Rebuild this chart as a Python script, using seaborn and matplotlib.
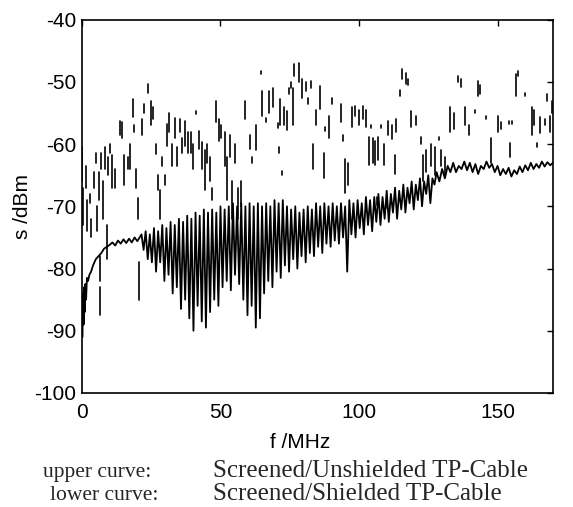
import numpy as np
import pandas as pd
import matplotlib
matplotlib.use("Agg")
import matplotlib.pyplot as plt
import seaborn as sns

# ---------------- data ----------------
# Upper curve (Screened/Unshielded TP-Cable): fragmented trace, stored as
# short strokes: frequency, top level, bottom level
upper_f = [0.2, 0.5, 1.6, 2.0, 2.8, 3.2, 4.3, 5.0, 5.5, 6.0, 6.5, 6.6, 7.0, 7.6, 8.4,
           9.0, 9.5, 10.3, 11.0, 12.0, 13.7, 14.5, 15.3, 16.5, 17.4, 18.3, 18.9, 19.6,
           20.3, 20.5, 21.5, 22.5, 23.7, 24.8, 25.6, 26.6, 27.4, 28.0, 29.0, 29.8,
           30.6, 31.6, 32.6, 33.5, 34.4, 35.3, 36.0, 37.2, 38.2, 39.3, 40.0, 41.2,
           42.3, 43.5, 44.3, 45.2, 46.2, 47.0, 48.3, 49.3, 50.2, 51.5, 52.2, 53.3,
           54.3, 55.2, 56.3, 57.3, 59.0, 60.5, 61.5, 63.0, 64.6, 65.0, 66.5, 67.5,
           69.0, 70.8, 71.2, 71.5, 72.3, 73.0, 74.0, 74.6, 75.3, 76.0, 76.4, 78.4,
           79.5, 80.8, 81.5, 82.5, 83.5, 84.3, 85.8, 87.5, 87.8, 89.0, 90.4, 93.5,
           94.2, 95.0, 96.0, 97.5, 98.5, 100.0, 101.5, 102.5, 103.5, 104.3, 105.0,
           105.8, 106.5, 107.0, 108.0, 109.0, 110.0, 110.6, 111.8, 113.0, 113.5,
           114.8, 115.6, 116.8, 117.8, 118.8, 120.5, 122.5, 123.2, 124.2, 126.0,
           127.3, 129.0, 129.5, 131.0, 132.8, 134.2, 135.8, 136.8, 138.3, 139.8,
           141.8, 142.8, 143.8, 145.9, 147.5, 150.0, 151.3, 154.0, 154.6, 155.3,
           156.6, 157.3, 160.0, 162.3, 163.3, 164.2, 165.5, 167.0, 167.8, 168.8, 169.5]
upper_top = [-60.5, -67, -63.5, -69, -68, -72, -64.5, -61.5, -70, -64.5, -78, -83, -61.5, -66, -60.5,
             -73, -62, -60, -61.7, -64, -56.2, -56.5, -61.7, -62, -60, -52.7, -57, -64,
             -68.7, -79, -56, -53.5, -50.3, -53, -54, -60, -65, -67.3, -62, -65,
             -56.8, -55, -60, -55.8, -60.5, -56, -59, -56.3, -58, -58, -60, -54.6,
             -57.9, -59.7, -61, -60, -62, -67, -53, -56, -57, -58, -62, -58.5,
             -66, -60, -67, -66, -53, -58.6, -62, -57, -48.2, -51.4, -55.8, -51.5,
             -51, -56.6, -60.5, -52.8, -64.3, -54, -54.6, -51, -50, -51, -47.1, -47,
             -49.5, -50, -52.5, -49.8, -60, -54.5, -50.6, -61.5, -57.3, -55.5, -52.5, -53.5,
             -58.5, -62.4, -63, -54, -53.9, -54.5, -53.9, -54.5, -58.9, -57, -59,
             -59.5, -68.5, -58.9, -57, -60, -69, -56.3, -57, -61.8, -56,
             -51.3, -47.9, -48.5, -49.5, -54.7, -55.5, -58.9, -61.8, -61, -60,
             -60.5, -58.8, -61, -62, -54, -55, -49, -49.5, -54, -57,
             -54.5, -49.8, -50.5, -55.5, -59, -55.5, -56.5, -56.3, -59.8, -56.3,
             -48.7, -48.3, -51.8, -54, -54.5, -59.8, -55.7, -56, -52, -55.5, -53]
upper_bot = [-66, -73, -67, -74, -69.5, -75, -67, -63, -74, -69, -82, -87.5, -64, -72, -64,
             -78.5, -65, -61.5, -67, -67, -58.6, -59, -66.5, -64, -64, -55.6, -58, -67,
             -72, -85, -58.5, -55, -51.8, -57, -56, -61.6, -67.3, -72, -63.5, -66.5,
             -60.3, -58, -63.5, -59, -63.5, -58, -61.5, -60.3, -61.5, -61.5, -64, -55.2,
             -60.8, -64, -67.3, -63, -66, -69, -56.5, -59.5, -59, -63.5, -69, -62,
             -72, -63, -72, -70, -56, -60.8, -63, -61, -48.7, -55.4, -56.5, -55,
             -54, -57.4, -61.5, -57, -65, -57, -57.7, -52, -51, -57, -49, -50,
             -52.5, -51.5, -53.5, -51, -64, -57, -54.3, -65.5, -57.9, -59, -53.5, -56.5,
             -59.5, -67.8, -66.5, -57.3, -55.5, -57, -56, -57.3, -63.3, -57.4, -63,
             -63.3, -69.8, -62.5, -57.4, -63.3, -70.3, -58.5, -59.2, -64.8, -58,
             -52.3, -49.5, -50.3, -50.5, -57.3, -57, -60, -66, -64.5, -63.5,
             -65, -59.4, -63.5, -65, -58, -57.5, -50, -50.8, -57, -58.5,
             -55, -52.2, -52, -56, -63, -58, -57.5, -56.8, -62, -56.8,
             -52.2, -49, -52.3, -58.5, -57, -60.5, -58.2, -57, -53, -58, -55]

# Lower curve (Screened/Shielded TP-Cable)
# smooth start 0..20 MHz
low_start_f = [0.2, 0.4, 0.6, 0.8, 1.0, 1.2, 1.5, 1.8, 2.2, 2.7, 3.3, 4.0, 5.0, 6.0, 7.0,
               8.0, 9.0, 10.0, 11.0, 12.0, 13.0, 14.0, 15.0, 16.0, 17.0, 18.0, 19.0, 20.0]
low_start_s = [-91, -84, -89, -83, -87, -82.5, -85, -81.5, -82, -81, -80.5, -79.5, -78.5,
               -78, -77.5, -76.8, -76.5, -76.2, -75.8, -76.3, -75.5, -76.0, -75.3, -75.9,
               -75.2, -75.8, -75.0, -75.6]
# oscillating middle part: peak positions/levels and dip positions/levels
low_peak_f = [21.5, 23, 24.5, 26, 27.5, 29, 30.5, 32, 33.5, 35, 36.5, 38, 39.5, 41, 42.5,
              44, 45.5, 47, 48.5, 50, 51.5, 53, 54.5, 56, 57.5, 59, 60.5, 62, 63.5, 65,
              66.5, 68, 69.5, 71, 72.5, 74, 75.5, 77, 78.5, 80, 81.5, 83, 84.5, 86, 87.5,
              89, 90.5, 92, 93.5, 95, 96.5, 98, 99.5, 101, 102.5, 104, 105.5, 107, 108.5,
              110, 111.5, 113, 114.5, 116, 117.5, 119, 120.5, 122, 123.5, 125, 126.5, 128]
low_peak_s = [-74.5, -74, -74.5, -73.5, -74, -73, -73.5, -72.5, -73, -72, -72.5, -71.5, -72,
              -71, -71.5, -70.5, -71, -70.5, -71, -70, -70.5, -70, -69.5, -70, -69.5, -70,
              -69.5, -70, -69.5, -70, -69.5, -70, -69, -69.5, -69, -70, -70.5, -70, -71,
              -70.5, -70, -70.5, -69.5, -70, -69.5, -70, -69.5, -70, -69.5, -70, -69,
              -69.5, -69, -69.5, -68.5, -69, -68.5, -68, -68.5, -67.5, -68, -67, -67.5,
              -66.5, -67, -66, -66.5, -65.5, -66, -65, -65.5, -64.5]
low_dip_f = [22.25, 23.75, 25.25, 26.75, 28.25, 29.75, 31.25, 32.75, 34.25, 35.75, 37.25,
             38.75, 40.25, 41.75, 43.25, 44.75, 46.25, 47.75, 49.25, 50.75, 52.25, 53.75,
             55.25, 56.75, 58.25, 59.75, 61.25, 62.75, 64.25, 65.75, 67.25, 68.75, 70.25,
             71.75, 73.25, 74.75, 76.25, 77.75, 79.25, 80.75, 82.25, 83.75, 85.25, 86.75,
             88.25, 89.75, 91.25, 92.75, 94.25, 95.75, 97.25, 98.75, 100.25, 101.75,
             103.25, 104.75, 106.25, 107.75, 109.25, 110.75, 112.25, 113.75, 115.25,
             116.75, 118.25, 119.75, 121.25, 122.75, 124.25, 125.75, 127.25]
low_dip_s = [-77, -78.5, -79, -80.5, -79, -82, -81, -84, -83, -86.5, -85, -88, -90, -86,
             -88.5, -89.5, -87, -85, -86, -83, -82, -83.5, -81, -82.5, -85, -87.5, -86,
             -89.5, -88, -84, -82, -83, -80.5, -81.5, -79.5, -80.5, -78.5, -80, -78, -79,
             -77.5, -78, -76.5, -77.5, -76, -76.5, -75.5, -76, -75, -80.5, -74.5, -75,
             -73.5, -74.5, -73, -74, -72.5, -73, -72, -72.5, -71, -72, -70.5, -71, -69.5,
             -70.5, -69, -70, -68, -69.5, -66.5]
# flatter, noisy end part
low_end_f = [129, 130, 131, 132, 133, 134, 135, 136, 137, 138, 139, 140, 141, 142, 143,
             144, 145, 146, 147, 148, 149, 150, 151, 152, 153, 154, 155, 156, 157, 158,
             159, 160, 161, 162, 163, 164, 165, 166, 167, 168, 169, 170]
low_end_s = [-66, -64, -65.5, -63.5, -64.5, -63, -64.5, -63.5, -64, -62.8, -64.2, -63,
             -64.5, -63.2, -64.8, -63.5, -64, -62.8, -63.8, -63.2, -64.5, -63.5, -65, -64,
             -64.8, -63.8, -65.2, -64.2, -64.8, -63.6, -64.5, -63.4, -64.2, -63, -64,
             -63.2, -63.8, -62.8, -63.6, -62.9, -63.4, -63]

x_ticks = [0, 50, 100, 150]
y_ticks = [-100, -90, -80, -70, -60, -50, -40]

# ---------------- tables ----------------
lower_df = pd.DataFrame({
    "f": low_start_f + low_peak_f + low_dip_f + low_end_f,
    "s": low_start_s + low_peak_s + low_dip_s + low_end_s,
}).sort_values("f").reset_index(drop=True)

n_up = len(upper_f)
upper_df = pd.DataFrame({
    "f": upper_f + upper_f,
    "s": upper_top + upper_bot,
    "seg": list(range(n_up)) + list(range(n_up)),
})

# ---------------- plot ----------------
sns.set_theme(style="white")
plt.rcParams["font.family"] = ["Liberation Sans", "DejaVu Sans"]
plt.rcParams["axes.unicode_minus"] = False

fig = plt.figure(figsize=(5.73, 5.07), dpi=100)
ax = fig.add_axes([0.143, 0.225, 0.822, 0.736])

sns.lineplot(data=lower_df, x="f", y="s", ax=ax, color="black", lw=1.3,
             sort=False, estimator=None)
sns.lineplot(data=upper_df, x="f", y="s", units="seg", ax=ax, color="black",
             lw=1.2, estimator=None, sort=False)

ax.set_xlim(0, 170)
ax.set_ylim(-100, -40)
ax.set_xticks(x_ticks)
ax.set_yticks(y_ticks)
ax.tick_params(direction="in", length=4, width=1.0, top=True, right=True,
               labelsize=15, colors="black")
ax.tick_params(axis="x", pad=7)
ax.tick_params(axis="y", pad=4)
for sp in ax.spines.values():
    sp.set_visible(True)
    sp.set_color("black")
    sp.set_linewidth(1.2)

ax.set_xlabel("f /MHz", fontsize=15, color="black")
ax.xaxis.set_label_coords(0.463, -0.108)
ax.set_ylabel("s /dBm", fontsize=15, labelpad=2, color="black")

serif = ["Liberation Serif", "DejaVu Serif"]
fig.text(0.075, 0.060, "upper curve:", family=serif, fontsize=15.5, va="baseline")
fig.text(0.372, 0.060, "Screened/Unshielded TP-Cable", family=serif, fontsize=18,
         va="baseline")
fig.text(0.087, 0.014, "lower curve:", family=serif, fontsize=15.5, va="baseline")
fig.text(0.372, 0.014, "Screened/Shielded TP-Cable", family=serif, fontsize=18,
         va="baseline")

fig.savefig("out.png", dpi=100, facecolor="white")
